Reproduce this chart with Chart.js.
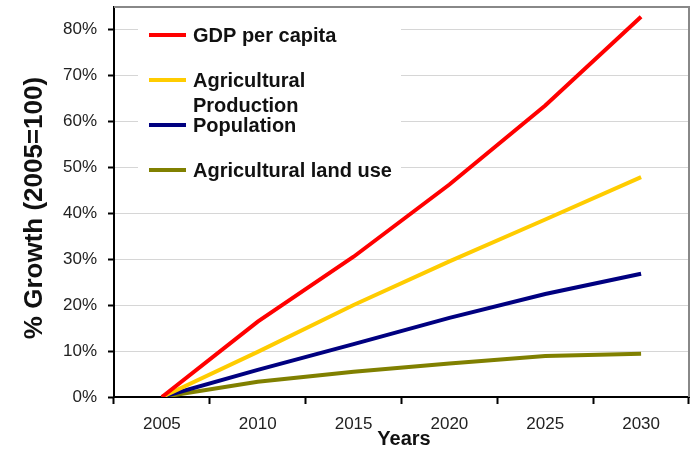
<!DOCTYPE html>
<html>
<head>
<meta charset="utf-8">
<script src="https://cdn.jsdelivr.net/npm/chart.js@4"></script>
<style>
  html, body { margin: 0; padding: 0; background: #fff; }
  #wrap { width: 696px; height: 449px; }
</style>
</head>
<body>
<div id="wrap"><canvas id="myChart" width="696" height="449"></canvas></div>
<script>
const years = ["2005", "2010", "2015", "2020", "2025", "2030"]
const gdpPerCapita = [0, 16.4, 30.5, 46.2, 63.4, 82.7]
const agriProduction = [0, 9.8, 20.0, 29.5, 38.6, 47.8]
const population = [0, 5.9, 11.5, 17.2, 22.4, 26.8]
const agriLandUse = [0, 3.3, 5.5, 7.3, 8.9, 9.4]

const seriesNames = ["GDP per capita", "Agricultural Production", "Population", "Agricultural land use"]
const legendLines = [["GDP per capita"], ["Agricultural", "Production"], ["Population"], ["Agricultural land use"]]
const seriesColors = ["#ff0000", "#ffcc00", "#000080", "#808000"]

const FONT = "'Liberation Sans', Arial, sans-serif"

const makeSet = (i, data) => ({
  label: seriesNames[i],
  data: data,
  borderColor: seriesColors[i],
  backgroundColor: seriesColors[i],
  borderWidth: 4,
  pointRadius: 0,
  tension: 0,
  fill: false,
})

// frame, legend box and axis titles
const decor = {
  id: "decor",
  beforeDatasetsDraw(chart) {
    const { ctx, chartArea: a } = chart
    ctx.save()
    // legend box hides the grid lines
    ctx.fillStyle = "#fff"
    ctx.fillRect(138, a.top + 2, 263, 183)
    ctx.restore()
  },
  afterDraw(chart) {
    const { ctx, chartArea: a } = chart
    ctx.save()
    ctx.strokeStyle = "#888"
    ctx.lineWidth = 2
    ctx.beginPath()
    ctx.moveTo(a.left, a.top)
    ctx.lineTo(a.right, a.top)
    ctx.lineTo(a.right, a.bottom)
    ctx.stroke()

    // legend
    const rowY = [35, 80, 125, 170]
    chart.data.datasets.forEach((ds, i) => {
      const y = rowY[i]
      ctx.strokeStyle = ds.borderColor
      ctx.lineWidth = 4
      ctx.beginPath()
      ctx.moveTo(149, y)
      ctx.lineTo(186, y)
      ctx.stroke()
      ctx.fillStyle = "#111"
      ctx.font = "bold 20px " + FONT
      ctx.textBaseline = "middle"
      ctx.textAlign = "left"
      legendLines[i].forEach((t, k) => ctx.fillText(t, 193, y + 1 + k * 25))
    })

    // axis titles
    ctx.fillStyle = "#111"
    ctx.font = "bold 26px " + FONT
    ctx.textAlign = "center"
    ctx.textBaseline = "middle"
    ctx.translate(35, 208)
    ctx.rotate(-Math.PI / 2)
    ctx.fillText("% Growth (2005=100)", 0, 0)
    ctx.restore()

    ctx.save()
    ctx.fillStyle = "#111"
    ctx.font = "bold 20px " + FONT
    ctx.textAlign = "center"
    ctx.textBaseline = "middle"
    ctx.fillText("Years", 404, 439)
    ctx.restore()
  }
}

const config = {
  type: "line",
  data: {
    labels: years,
    datasets: [
      makeSet(0, gdpPerCapita),
      makeSet(1, agriProduction),
      makeSet(2, population),
      makeSet(3, agriLandUse),
    ],
  },
  options: {
    responsive: false,
    animation: false,
    layout: { padding: { top: 7, right: 7, left: 0, bottom: 0 } },
    plugins: { legend: { display: false }, tooltip: { enabled: false } },
    scales: {
      x: {
        offset: true,
        grid: { display: true, drawOnChartArea: false, offset: true, tickLength: 7, tickColor: "#000", tickWidth: 2 },
        border: { color: "#000", width: 2 },
        ticks: { color: "#222", font: { family: FONT, size: 17 }, padding: 10, maxRotation: 0 },
        afterFit: s => { s.height = 52; s.paddingLeft = 0; s.paddingRight = 0 },
      },
      y: {
        min: 0,
        max: 84.8,
        afterBuildTicks: s => { s.ticks = s.ticks.filter(t => t.value % 10 === 0) },
        grid: { color: "#d6d6d6", lineWidth: 1, tickLength: 6, tickColor: "#000", tickWidth: 2 },
        border: { color: "#000", width: 2 },
        ticks: { stepSize: 10, color: "#222", font: { family: FONT, size: 17 }, padding: 11, callback: v => v + "%" },
        afterFit: s => { s.width = 114; s.paddingTop = 0; s.paddingBottom = 0 },
      },
    },
  },
  plugins: [decor],
}

const growthChart = new Chart(document.getElementById("myChart"), config)
</script>
</body>
</html>
